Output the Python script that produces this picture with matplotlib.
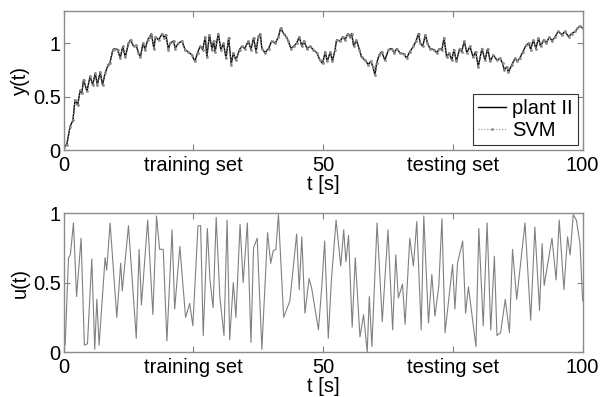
import numpy as np
import matplotlib.pyplot as plt

plt.rcParams['font.family'] = ['Liberation Sans', 'DejaVu Sans']

# y(t) - plant II output
t_y = [0.0, 0.6, 1.25, 1.8, 2.2, 2.7, 3.2, 3.5, 3.85, 4.5, 5.1, 5.6, 6.1, 6.5, 7.05, 7.5,
       8.0, 8.6, 8.9, 9.5, 9.9, 10.4, 10.9, 11.4, 11.9, 12.5, 12.9, 13.5, 14.0, 14.4, 14.8,
       15.3, 15.7, 16.2, 16.6, 16.9, 17.4, 17.7, 18.3, 19.0, 19.4, 19.7, 20.2, 20.5, 21.2,
       21.5, 22.1, 22.8, 23.4, 24.0, 24.7, 25.3, 25.8, 26.3, 26.8, 27.3, 27.6, 28.1, 28.6,
       28.9, 29.2, 29.8, 30.3, 30.8, 31.3, 31.8, 32.3, 32.7, 33.2, 33.9, 34.3, 34.9, 35.6,
       36.1, 36.6, 37.1, 37.5, 37.9, 38.2, 38.8, 39.5, 40.1, 40.8, 41.4, 41.8, 42.4, 42.9,
       43.3, 43.8, 44.3, 44.9, 45.4, 45.9, 46.3, 46.9, 47.5, 48.1, 48.8, 49.4, 49.9, 50.4,
       50.8, 51.4, 51.8, 52.3, 52.6, 53.3, 53.8, 54.2, 54.8, 55.2, 55.5, 55.9, 56.4, 57.0,
       57.4, 58.1, 58.7, 59.2, 59.6, 60.0, 60.3, 60.8, 61.3, 61.9, 62.6, 63.2, 63.7, 64.2,
       64.8, 65.5, 66.1, 66.7, 67.4, 67.9, 68.4, 68.7, 69.2, 69.7, 70.1, 70.6, 71.3, 71.9,
       72.4, 72.9, 73.3, 73.8, 74.3, 74.8, 75.2, 75.7, 76.3, 76.7, 77.2, 77.7, 78.3, 78.9,
       79.4, 79.9, 80.6, 81.2, 81.7, 82.2, 82.8, 83.5, 84.1, 84.6, 84.9, 85.4, 85.7, 86.4,
       87.0, 87.4, 87.9, 88.5, 89.1, 89.6, 90.0, 90.5, 91.0, 91.5, 91.9, 92.5, 93.0, 93.6,
       94.1, 94.7, 95.3, 96.0, 96.6, 97.3, 97.9, 98.6, 99.0, 99.5, 100.0]
y_plant = [0.03, 0.05, 0.22, 0.28, 0.47, 0.42, 0.56, 0.53, 0.66, 0.55, 0.69, 0.61, 0.72, 0.61,
           0.73, 0.61, 0.72, 0.80, 0.81, 0.94, 0.95, 0.94, 0.86, 0.97, 0.87, 1.00, 1.03, 0.97,
           0.98, 0.91, 0.87, 1.00, 0.94, 1.03, 1.06, 1.09, 0.95, 1.06, 1.03, 1.09, 1.05, 1.08,
           0.94, 1.00, 1.02, 0.95, 1.00, 1.02, 0.94, 0.92, 0.89, 0.83, 0.91, 0.97, 0.94, 1.06,
           0.87, 1.08, 0.94, 1.02, 0.92, 1.09, 0.94, 1.00, 0.86, 1.05, 0.80, 0.91, 0.84, 0.94,
           0.97, 0.95, 1.02, 0.94, 1.05, 0.92, 1.06, 1.09, 0.95, 0.91, 0.95, 1.02, 1.00, 1.06,
           1.14, 1.09, 1.06, 1.02, 0.95, 0.97, 1.00, 1.06, 0.97, 1.02, 0.95, 0.97, 0.94, 0.91,
           0.84, 0.81, 0.92, 0.83, 0.92, 0.83, 0.94, 1.03, 1.02, 1.06, 1.03, 1.09, 1.06, 1.09,
           0.97, 1.03, 0.94, 0.87, 0.84, 0.80, 0.83, 0.78, 0.70, 0.81, 0.89, 0.92, 0.84, 0.94,
           0.95, 0.91, 0.95, 0.91, 0.90, 0.86, 0.92, 0.97, 1.02, 1.09, 1.00, 0.97, 1.08, 1.00,
           0.95, 0.94, 0.91, 0.95, 0.94, 1.05, 0.87, 0.91, 0.84, 0.94, 0.83, 0.95, 0.92, 1.02,
           0.91, 0.97, 0.87, 0.92, 0.78, 0.95, 0.84, 0.95, 0.83, 0.89, 0.84, 0.86, 0.81, 0.75,
           0.78, 0.73, 0.80, 0.86, 0.83, 0.86, 0.92, 0.98, 1.00, 0.94, 1.03, 0.95, 1.05, 0.97,
           1.03, 1.00, 1.06, 1.02, 1.06, 1.11, 1.08, 1.11, 1.06, 1.09, 1.11, 1.14, 1.16, 1.14]
# SVM model output lies on top of the plant curve
y_svm = list(y_plant)

# u(t) - input signal
t_u = [0.0, 0.3, 0.95, 1.3, 1.9, 2.5, 3.37, 4.0, 4.6, 5.43, 6.0, 6.4, 6.84, 8.0, 8.3, 8.96,
       10.25, 11.0, 11.3, 12.5, 14.0, 14.55, 15.0, 16.2, 17.2, 17.9, 18.5, 19.2, 19.9, 20.9,
       21.4, 22.4, 23.5, 24.3, 24.9, 25.9, 26.4, 26.9, 27.7, 28.2, 28.8, 29.4, 30.1, 30.9,
       31.5, 32.0, 32.7, 33.2, 34.0, 34.6, 35.4, 36.1, 36.6, 37.3, 38.2, 39.3, 39.9, 40.4,
       40.9, 41.4, 42.4, 43.6, 44.9, 45.4, 45.9, 46.5, 47.3, 47.8, 49.1, 49.8, 50.3, 51.0,
       51.6, 52.5, 53.4, 53.97, 54.4, 54.9, 55.6, 56.2, 57.1, 57.8, 58.5, 58.9, 59.4, 60.4,
       61.4, 62.5, 63.4, 64.0, 64.5, 65.3, 65.8, 66.7, 67.4, 68.05, 68.9, 69.4, 70.3, 70.95,
       71.55, 72.3, 72.9, 73.5, 74.95, 75.4, 75.9, 76.9, 77.45, 78.0, 79.45, 80.0, 80.85,
       81.6, 82.3, 83.0, 83.5, 84.2, 85.1, 85.9, 86.5, 87.3, 88.9, 90.0, 90.8, 91.7, 92.2,
       92.6, 94.1, 94.9, 95.5, 96.4, 97.1, 97.6, 98.2, 98.8, 99.5, 100.0]
u_vals = [0.15, 0.05, 0.68, 0.70, 0.93, 0.40, 0.82, 0.05, 0.06, 0.67, 0.02, 0.38, 0.05, 0.68,
          0.59, 0.93, 0.25, 0.64, 0.44, 0.91, 0.10, 0.74, 0.34, 0.95, 0.27, 0.98, 0.74, 0.74,
          0.08, 0.88, 0.31, 0.76, 0.25, 0.35, 0.19, 0.91, 0.91, 0.12, 0.89, 0.52, 0.32, 0.97,
          0.40, 0.12, 0.95, 0.09, 0.50, 0.25, 0.92, 0.50, 0.93, 0.07, 0.75, 0.82, 0.02, 0.86,
          0.64, 0.73, 0.74, 0.99, 0.25, 0.37, 0.85, 0.45, 0.83, 0.28, 0.53, 0.46, 0.16, 0.50,
          0.80, 0.10, 0.52, 0.95, 0.62, 0.88, 0.65, 0.84, 0.18, 0.68, 0.11, 0.27, 0.00, 0.40,
          0.04, 0.93, 0.22, 0.88, 0.16, 0.70, 0.39, 0.49, 0.20, 0.82, 0.62, 0.94, 0.16, 0.98,
          0.21, 0.56, 0.26, 0.48, 0.96, 0.14, 0.63, 0.31, 0.64, 0.80, 0.28, 0.47, 0.04, 0.89,
          0.19, 0.93, 0.16, 0.69, 0.12, 0.14, 0.38, 0.14, 0.74, 0.38, 0.93, 0.23, 0.90, 0.30,
          0.78, 0.48, 0.82, 0.52, 0.95, 0.45, 0.83, 0.70, 0.99, 0.95, 0.78, 0.37]

x_ticks = [0, 25, 50, 75, 100]
x_ticklabels = ['0', 'training set', '50', 'testing set', '100']

fs = 14.5
fig = plt.figure(figsize=(6, 3.97), dpi=100)

ax1 = fig.add_axes([0.106, 0.622, 0.865, 0.350])
ax1.plot(t_y, y_plant, color='k', lw=1.0, label='plant II')
ax1.plot(t_y, y_svm, color='0.55', ls=':', lw=0.8, marker='.', ms=2, label='SVM')
ax1.set_ylim(0, 1.3)
ax1.set_yticks([0, 0.5, 1])
ax1.set_yticklabels(['0', '0.5', '1'])
ax1.set_ylabel('y(t)', fontsize=fs, labelpad=2)
leg = ax1.legend(loc='lower right', fontsize=fs, frameon=True, fancybox=False,
                 handlelength=1.4, handletextpad=0.3, borderpad=0.25, labelspacing=0.15,
                 borderaxespad=0.25)
leg.get_frame().set_edgecolor('k')
leg.get_frame().set_linewidth(0.8)

ax2 = fig.add_axes([0.106, 0.113, 0.865, 0.350])
ax2.plot(t_u, u_vals, color='0.5', lw=0.8)
ax2.set_ylim(0, 1)
ax2.set_yticks([0, 0.5, 1])
ax2.set_yticklabels(['0', '0.5', '1'])
ax2.set_ylabel('u(t)', fontsize=fs, labelpad=2)

for ax in (ax1, ax2):
    ax.set_xlim(0, 100)
    ax.set_xticks(x_ticks)
    ax.set_xticklabels(x_ticklabels)
    ax.set_xlabel('t [s]', fontsize=fs, labelpad=0)
    ax.tick_params(direction='in', top=True, right=True, length=4, width=0.8,
                   color='0.5', labelsize=fs)
    ax.tick_params(axis='x', pad=4)
    ax.tick_params(axis='y', pad=2)
    for s in ax.spines.values():
        s.set_color('0.55')
        s.set_linewidth(1.0)

fig.savefig('out.png', dpi=100)
